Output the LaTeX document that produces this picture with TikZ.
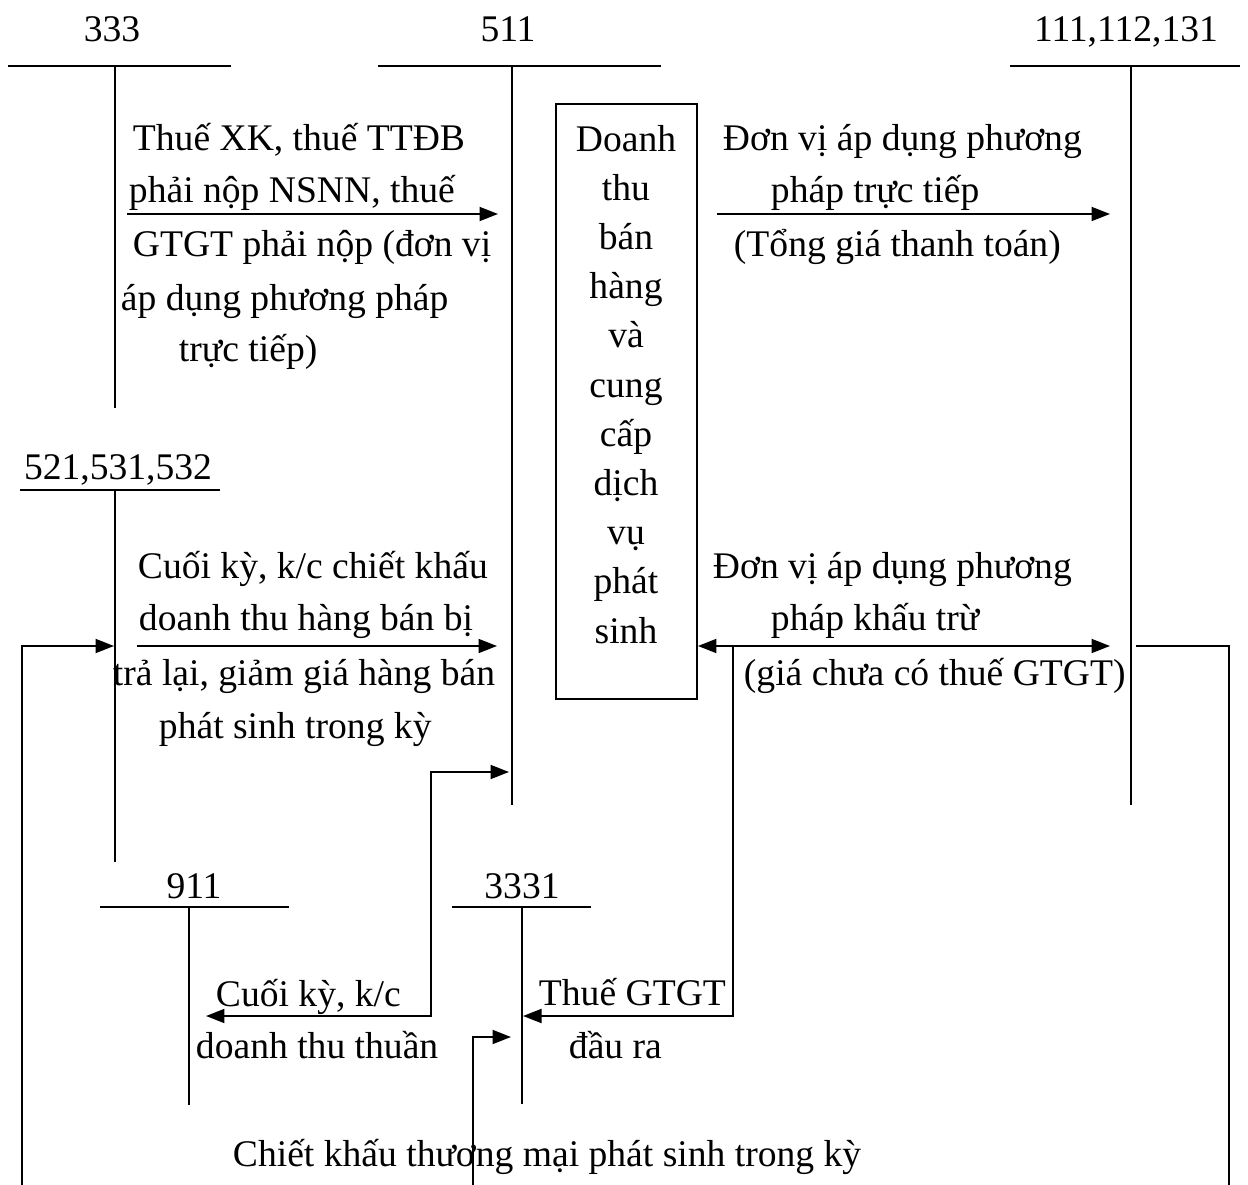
\documentclass[tikz,border=0pt]{standalone}
\usepackage{fontspec}
\setmainfont{Liberation Serif}
\usetikzlibrary{arrows.meta}
\begin{document}
\begin{tikzpicture}[x=0.02cm,y=-0.02cm, line width=1.1pt,
  txt/.style={anchor=base west, inner sep=0pt, font=\fontsize{21.4}{28}\selectfont},
  num/.style={anchor=base, inner sep=0pt, font=\fontsize{21.4}{28}\selectfont},
  acct/.style={line width=1.2pt},
  tip/.tip={Triangle[length=0.37cm,width=0.28cm]},
  arr/.style={-tip},
  darr/.style={tip-tip}]
\useasboundingbox (0,0) rectangle (1248,1185);

% ---- T accounts
\node[num] (n333) at (112,42) {333};
\draw[acct] (8,66) -- (231,66) (115,66) -- (115,408);
\node[num] (n511) at (508,42) {511};
\draw[acct] (378,66) -- (661,66) (512,66) -- (512,805);
\node[num] (n111) at (1126,42) {111,112,131};
\draw[acct] (1010,66) -- (1240,66) (1131,66) -- (1131,805);
\node[num] (n521) at (118,480) {521,531,532};
\draw[acct] (20,490) -- (220,490) (115,490) -- (115,862);
\node[num] (n911) at (194,898) {911};
\draw[acct] (100,907) -- (289,907) (189,907) -- (189,1105);
\node[num] (n3331) at (522,898) {3331};
\draw[acct] (452,907) -- (591,907) (522,907) -- (522,1104);

% ---- central box
\node[draw, minimum width=2.82cm, minimum height=11.9cm, inner sep=0pt] (box) at (626.5,401.5) {};
\node[anchor=north, align=center, inner sep=0pt, font=\fontsize{21.4}{28}\selectfont] (boxtxt) at (626,124)
  {Doanh\\thu\\bán\\hàng\\và\\cung\\cấp\\dịch\\vụ\\phát\\sinh};

% ---- texts 333 -> 511
\node[txt] (t1) at (132,151) {Thuế XK, thuế TTĐB};
\node[txt] (t2) at (128,203) {phải nộp NSNN, thuế};
\node[txt] (t3) at (132,257) {GTGT phải nộp (đơn vị};
\node[txt] (t4) at (120,311) {áp dụng phương pháp};
\node[txt] (t5) at (178,362) {trực tiếp)};

% ---- texts 511 -> 111 (direct)
\node[txt] (r1) at (722,151) {Đơn vị áp dụng phương};
\node[txt] (r2) at (770,203) {pháp trực tiếp};
\node[txt] (r3) at (733,257) {(Tổng giá thanh toán)};

% ---- texts 521 -> 511
\node[txt] (l1) at (137,579) {Cuối kỳ, k/c chiết khấu};
\node[txt] (l2) at (138,631) {doanh thu hàng bán bị};
\node[txt] (l3) at (112,685) {trả lại, giảm giá hàng bán};
\node[txt] (l4) at (158,738) {phát sinh trong kỳ};

% ---- texts 511 -> 111 (deduction)
\node[txt] (m1) at (712,579) {Đơn vị áp dụng phương};
\node[txt] (m2) at (770,631) {pháp khấu trừ};
\node[txt] (m3) at (743,685) {(giá chưa có thuế GTGT)};

% ---- bottom texts
\node[txt] (b1) at (215,1006) {Cuối kỳ, k/c};
\node[txt] (b2) at (195,1058) {doanh thu thuần};
\node[txt] (b3) at (538,1005) {Thuế GTGT};
\node[txt] (b4) at (568,1058) {đầu ra};
\node[txt] (b5) at (232,1166) {Chiết khấu thương mại phát sinh trong kỳ};

% ---- connector coordinates
\coordinate (a1s) at (127,214);  \coordinate (a1e) at (498,214);
\coordinate (a2s) at (717,214);  \coordinate (a2e) at (1110,214);
\coordinate (a3s) at (137,646);  \coordinate (a3e) at (497,646);
\coordinate (a4s) at (box.east |- a3s); \coordinate (a4e) at (1110,646);
\coordinate (a5s) at (22,1185);  \coordinate (a5e) at (114,646);
\coordinate (a6s) at (1136,646); \coordinate (a6e) at (1229,1185);
\coordinate (a7s) at (733,646);  \coordinate (a7e) at (523,1016);
\coordinate (a8s) at (509,772);  \coordinate (a8k) at (431,772); \coordinate (a8e) at (206,1016);
\coordinate (a9s) at (473,1185); \coordinate (a9e) at (511,1037);

% ---- connectors
\draw[arr] (a1s) -- (a1e);
\draw[arr] (a2s) -- (a2e);
\draw[arr] (a3s) -- (a3e);
\draw[darr] (a4s) -- (a4e);
\draw[arr] (a5s) |- (a5e);
\draw (a6s) -| (a6e);
\draw[arr] (a7s) |- (a7e);
\draw[darr] (a8s) -- (a8k) |- (a8e);
\draw[arr] (a9s) |- (a9e);
\end{tikzpicture}
\end{document}
